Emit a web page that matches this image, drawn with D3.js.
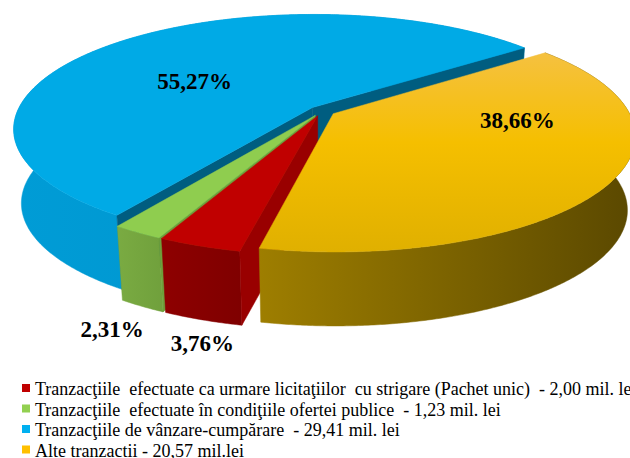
<!DOCTYPE html>
<html>
<head>
<meta charset="utf-8">
<script src="https://cdn.jsdelivr.net/npm/d3@7"></script>
<style>
  body { margin: 0; background: #fff; }
  svg { display: block; }
</style>
</head>
<body>
<div id="chart"></div>
<script>
// data
const categories = [
  "Tranzacţiile  efectuate ca urmare licitaţiilor  cu strigare (Pachet unic)  - 2,00 mil. lei",
  "Tranzacţiile  efectuate în condiţiile ofertei publice  - 1,23 mil. lei",
  "Tranzacţiile de vânzare-cumpărare  - 29,41 mil. lei",
  "Alte tranzactii - 20,57 mil.lei"
];
const values = [2.00, 1.23, 29.41, 20.57];
const topColors = ["#c00000", "#8fcd4f", "#00aae6", "#f5bf00"];
const sideColors = [["#8e0000", "#7f0000"], ["#7aab42", "#70a03c"], ["#009cd6", "#0090c8"], ["#9e7e00", "#5a4800"]];
const faceColors = ["#990000", "#6f9f3a", "#005d80", "#8a6e00"];
const legendColors = ["#c00000", "#92d050", "#00b0f0", "#ffc000"];

const width = 630, height = 458;
const serif = "Liberation Serif";

// projection of the tilted pie
const cx = 322, cy = 111;
const F = 1475, D = 5, sp = 0.378, cp = Math.sqrt(1 - sp * sp);
const explode = 0.045;
const depthPx = 74, bottomShrink = 0.975;
const theta0 = 102.2 * Math.PI / 180;

function proj(x, z) {
  const depth = D - z * cp;
  return [cx + F * x / depth, cy + F * z * sp / depth];
}
function lower(p) {
  return [cx + (p[0] - cx) * bottomShrink, p[1] + depthPx];
}

const pie = d3.pie().sort(null).value(d => d)
  .startAngle(theta0).endAngle(theta0 + 2 * Math.PI);
const arcs = pie(values);
const total = d3.sum(values);
const fmt = d3.format(".2f");

arcs.forEach(a => {
  a.mid = (a.startAngle + a.endAngle) / 2;
  a.off = [explode * Math.cos(a.mid), explode * Math.sin(a.mid)];
});

function rim(a, ang, r, top) {
  const p = proj(a.off[0] + r * Math.cos(ang), a.off[1] + r * Math.sin(ang));
  return top ? p : lower(p);
}
function rimPoints(a, from, to, top) {
  const n = Math.max(2, Math.ceil(Math.abs(to - from) / (Math.PI / 360)));
  const s = d3.scaleLinear().domain([0, n]).range([from, to]);
  return d3.range(n + 1).map(i => rim(a, s(i), 1, top));
}

const svg = d3.select("#chart").append("svg")
  .attr("width", width).attr("height", height);
const defs = svg.append("defs");
const line = d3.line();

const drawOrder = [2, 1, 0, 3];
const g = svg.append("g");

drawOrder.forEach(i => {
  const a = arcs[i];
  const top = rimPoints(a, a.startAngle, a.endAngle, true);
  const bot = rimPoints(a, a.endAngle, a.startAngle, false);
  const side = top.concat(bot);
  const xs = d3.extent(side, p => p[0]);

  const gid = "side" + i;
  const grad = defs.append("linearGradient").attr("id", gid)
    .attr("gradientUnits", "userSpaceOnUse")
    .attr("x1", xs[0]).attr("x2", xs[1]).attr("y1", 0).attr("y2", 0);
  grad.append("stop").attr("offset", 0).attr("stop-color", sideColors[i][0]);
  grad.append("stop").attr("offset", 1).attr("stop-color", sideColors[i][1]);

  g.append("path").attr("d", line(side) + "Z")
    .attr("fill", `url(#${gid})`).attr("stroke", `url(#${gid})`).attr("stroke-width", 0.5);

  const apex = proj(a.off[0], a.off[1]);

  // radial faces, only those turned toward the viewer
  [[a.startAngle, 1], [a.endAngle, -1]].forEach(([ang, sgn]) => {
    const nx = sgn * Math.sin(ang), nz = -sgn * Math.cos(ang);
    const px = a.off[0] + 0.5 * Math.cos(ang), pz = a.off[1] + 0.5 * Math.sin(ang);
    const vis = (-px) * nx + (D * cp - pz) * nz;
    if (vis <= 0) return;
    const poly = [apex, rim(a, ang, 1, true), rim(a, ang, 1, false), lower(apex)];
    g.append("path").attr("d", line(poly) + "Z")
      .attr("fill", faceColors[i]).attr("stroke", faceColors[i]).attr("stroke-width", 0.5);
  });

  // top face
  let fill = topColors[i];
  if (i === 3) {
    const ys = d3.extent(top, p => p[1]);
    const tg = defs.append("linearGradient").attr("id", "topY")
      .attr("gradientUnits", "userSpaceOnUse")
      .attr("x1", 0).attr("x2", 0).attr("y1", ys[0]).attr("y2", ys[1]);
    tg.append("stop").attr("offset", 0).attr("stop-color", "#f5c140");
    tg.append("stop").attr("offset", 0.45).attr("stop-color", "#f5bf00");
    tg.append("stop").attr("offset", 1).attr("stop-color", "#e0b000");
    fill = "url(#topY)";
  }
  g.append("path").attr("d", line([apex].concat(top)) + "Z")
    .attr("fill", fill).attr("stroke", fill).attr("stroke-width", 0.5);
});

// percentage labels
const labelRadius = [1, 1, 0.55, 0.6];
const labelOnTop = [false, false, true, true];
const labelNudge = [[0, 31], [-30, 31], [-9, 20], [24, -24]];
arcs.forEach((a, i) => {
  const p = rim(a, a.mid, labelRadius[i], labelOnTop[i]);
  svg.append("text")
    .attr("x", p[0] + labelNudge[i][0]).attr("y", p[1] + labelNudge[i][1])
    .attr("text-anchor", "middle")
    .attr("font-family", serif)
    .attr("font-size", 23).attr("font-weight", "bold").attr("fill", "#000")
    .text(fmt(a.value / total * 100).replace(".", ",") + "%");
});

// legend
const legend = svg.append("g");
const row = legend.selectAll("g").data(categories).enter().append("g")
  .attr("transform", (d, i) => `translate(0,${395 + i * 20.5})`);
row.append("rect")
  .attr("x", 22).attr("y", -11).attr("width", 8).attr("height", 8)
  .attr("fill", (d, i) => legendColors[i]);
row.append("text")
  .attr("x", 35).attr("y", 0)
  .attr("font-family", serif)
  .attr("font-size", 18).attr("fill", "#000")
  .attr("xml:space", "preserve")
  .style("white-space", "pre")
  .text(d => d);
</script>
</body>
</html>
